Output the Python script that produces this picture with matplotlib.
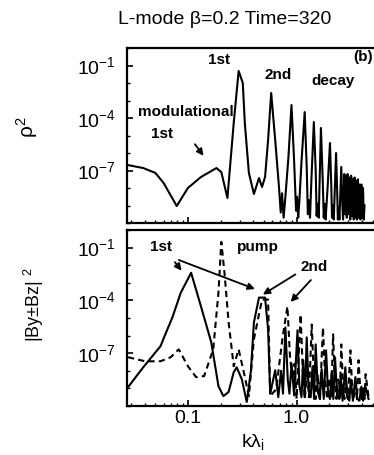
import numpy as np
import matplotlib
matplotlib.use("Agg")
import matplotlib.pyplot as plt
from matplotlib.ticker import FixedLocator, NullFormatter

plt.rcParams['font.family'] = ['Liberation Sans', 'DejaVu Sans']
plt.rcParams['mathtext.fontset'] = 'custom'
plt.rcParams['mathtext.rm'] = 'Liberation Sans'
plt.rcParams['mathtext.it'] = 'Liberation Sans:italic'

# --- top panel: rho^2 spectrum (k lambda_i, log10 value) ---
rho_k = [0.0281, 0.0388, 0.0502, 0.0597, 0.0789, 0.100, 0.132, 0.183, 0.203, 0.231,
         0.264, 0.293, 0.320, 0.334, 0.364, 0.405, 0.451, 0.481, 0.513, 0.547,
         0.584, 0.636, 0.690, 0.715, 0.735, 0.760, 0.789, 0.842, 0.898, 0.950,
         0.990, 1.010, 1.035, 1.060, 1.110, 1.188, 1.240, 1.270, 1.300, 1.330,
         1.370, 1.442, 1.500, 1.530, 1.560, 1.600, 1.676, 1.740, 1.780, 1.810,
         1.850, 1.930, 2.030, 2.090, 2.120, 2.160, 2.200, 2.310, 2.370, 2.400,
         2.440, 2.480, 2.580, 2.640, 2.680, 2.750, 2.800, 2.850, 2.900, 2.950,
         3.000, 3.060, 3.120, 3.180, 3.240, 3.300, 3.360, 3.420, 3.480, 3.540,
         3.600, 3.670, 3.740, 3.810, 3.880, 3.950, 4.020, 4.090, 4.160, 4.220]
rho_log = [-6.69, -6.86, -7.14, -7.71, -9.03, -8.00, -7.37, -6.86, -7.09, -8.57,
           -4.29, -1.31, -2.00, -4.29, -7.14, -8.34, -7.43, -7.94, -7.37, -5.26,
           -2.57, -5.26, -8.00, -9.40, -8.30, -9.70, -8.51, -6.23, -3.26, -6.50,
           -9.30, -8.50, -9.70, -8.80, -6.50, -3.66, -6.80, -9.50, -8.70, -9.70,
           -7.50, -4.23, -7.00, -9.60, -8.90, -9.70, -4.57, -7.50, -9.70, -8.90,
           -9.80, -8.00, -5.43, -8.00, -9.70, -9.00, -9.80, -6.00, -8.40, -9.80,
           -9.10, -9.80, -6.80, -9.00, -9.80, -7.20, -9.50, -7.30, -9.70, -7.20,
           -9.50, -7.40, -9.80, -7.30, -9.60, -7.50, -9.80, -7.40, -9.70, -7.60,
           -9.80, -7.50, -9.70, -7.80, -9.80, -7.80, -9.70, -8.00, -9.80, -9.00]

# --- bottom panel: |By+-Bz|^2, solid and dashed components ---
sol_k = [0.0281, 0.0388, 0.0558, 0.0724, 0.0860, 0.107, 0.132, 0.164, 0.191, 0.212,
         0.237, 0.264, 0.281, 0.313, 0.348, 0.380, 0.405, 0.451, 0.513, 0.547,
         0.572, 0.636, 0.679, 0.720, 0.750, 0.789, 0.830, 0.860, 0.900, 0.950,
         1.020, 1.060, 1.110, 1.150, 1.190, 1.240, 1.290, 1.350, 1.400, 1.450,
         1.500, 1.570, 1.640, 1.700, 1.780, 1.870, 1.950, 2.030, 2.100, 2.180,
         2.260, 2.360, 2.470, 2.550, 2.650, 2.810, 2.930, 3.060, 3.160, 3.300,
         3.480, 3.620, 3.790, 3.950, 4.100, 4.320, 4.600]
sol_log = [-8.93, -7.80, -6.61, -4.92, -3.56, -2.43, -4.35, -6.38, -8.87, -9.44,
           -9.20, -8.08, -7.80, -8.47, -9.77, -8.00, -5.25, -3.84, -3.84, -5.65,
           -9.30, -7.97, -9.50, -8.00, -9.30, -5.54, -8.50, -9.30, -7.60, -9.40,
           -5.70, -8.80, -9.50, -7.40, -9.50, -6.10, -9.00, -9.50, -7.80, -9.60,
           -6.50, -9.20, -9.60, -7.90, -9.60, -6.84, -9.30, -9.60, -8.10, -9.60,
           -7.23, -9.40, -9.60, -8.30, -9.70, -7.80, -9.50, -9.70, -8.50, -9.70,
           -8.36, -9.60, -9.70, -8.90, -9.70, -8.93, -9.60]

dash_k = [0.0281, 0.0405, 0.0558, 0.0694, 0.0824, 0.100, 0.119, 0.141, 0.171, 0.191,
          0.203, 0.217, 0.237, 0.264, 0.293, 0.327, 0.364, 0.405, 0.481, 0.547,
          0.572, 0.650, 0.740, 0.824, 0.870, 0.917, 0.960, 1.000, 1.090, 1.140,
          1.190, 1.250, 1.300, 1.380, 1.440, 1.500, 1.570, 1.640, 1.750, 1.830,
          1.910, 2.000, 2.080, 2.170, 2.250, 2.330, 2.420, 2.500, 2.580, 2.670,
          2.760, 2.860, 2.970, 3.130, 3.240, 3.350, 3.470, 3.600, 3.720, 3.850,
          3.970, 4.100, 4.220, 4.320, 4.600]
dash_log = [-7.23, -7.46, -7.46, -7.23, -6.78, -7.74, -8.36, -8.30, -6.78, -3.56,
            -0.68, -2.43, -5.25, -7.74, -6.78, -8.08, -9.44, -6.20, -3.95, -3.95,
            -9.44, -9.04, -6.20, -4.35, -7.18, -8.50, -7.60, -9.60, -4.80, -8.00,
            -9.60, -8.00, -9.50, -5.37, -8.30, -9.60, -8.20, -9.60, -5.54, -8.40,
            -9.60, -8.40, -9.60, -5.93, -8.60, -9.60, -8.50, -9.60, -6.50, -8.70,
            -9.60, -8.70, -9.60, -6.84, -8.80, -9.60, -8.80, -9.60, -7.40, -9.00,
            -9.60, -9.00, -9.60, -8.19, -9.50]

ytick_vals = [1e-7, 1e-4, 1e-1]
ytick_labels = [r'10$^{-7}$', r'10$^{-4}$', r'10$^{-1}$']
xtick_vals = [0.1, 1.0]
xtick_labels = ['0.1', '1.0']

W, H = 374, 455
fig = plt.figure(figsize=(W / 100, H / 100), dpi=100)
ax1 = fig.add_axes([127 / W, (H - 223) / H, 250 / W, 175 / H])
ax2 = fig.add_axes([127 / W, (H - 406) / H, 250 / W, 176 / H])

lw = 1.5
ax1.plot(rho_k, 10 ** np.array(rho_log), color='k', lw=lw)
ax2.plot(sol_k, 10 ** np.array(sol_log), color='k', lw=lw)
ax2.plot(dash_k, 10 ** np.array(dash_log), color='k', lw=lw, ls=(0, (3, 2)))

for ax in (ax1, ax2):
    ax.set_xscale('log')
    ax.set_yscale('log')
    ax.set_xlim(0.0275, 5.5)
    ax.set_ylim(1e-10, 1)
    for s in ax.spines.values():
        s.set_linewidth(1.6)
    ax.yaxis.set_major_locator(FixedLocator(ytick_vals))
    ax.set_yticklabels(ytick_labels, fontsize=14)
    ax.yaxis.set_minor_locator(FixedLocator(10.0 ** np.arange(-10, 1)))
    ax.yaxis.set_minor_formatter(NullFormatter())
    ax.tick_params(which='both', direction='in', top=False, right=False)
    ax.tick_params(which='major', length=4, width=1.2, pad=8)
    ax.tick_params(which='minor', length=2.5, width=1.0)

ax1.xaxis.set_major_locator(FixedLocator(xtick_vals))
ax1.xaxis.set_major_formatter(NullFormatter())
ax1.xaxis.set_minor_formatter(NullFormatter())
ax2.xaxis.set_major_locator(FixedLocator(xtick_vals))
ax2.set_xticklabels(xtick_labels, fontsize=14)
ax2.xaxis.set_minor_formatter(NullFormatter())
ax2.tick_params(axis='x', which='major', pad=3)

# annotations, top panel
bold = dict(fontsize=11, fontweight='bold', ha='center', va='center')
ax1.text(0.369, 0.931, '1st', transform=ax1.transAxes, **bold)
ax1.text(0.606, 0.846, '2nd', transform=ax1.transAxes, **bold)
ax1.text(0.823, 0.811, 'decay', transform=ax1.transAxes, **bold)
ax1.text(0.944, 0.949, '(b)', transform=ax1.transAxes, **bold)
ax1.text(0.237, 0.634, 'modulational', transform=ax1.transAxes, **bold)
ax1.text(0.141, 0.509, '1st', transform=ax1.transAxes, **bold)
arw = dict(arrowstyle='-|>', lw=1.3, color='k', mutation_scale=10)
ax1.annotate('', xy=(0.313, 0.371), xytext=(0.265, 0.463),
             xycoords='axes fraction', arrowprops=arw)

# annotations, bottom panel
ax2.text(0.137, 0.903, '1st', transform=ax2.transAxes, **bold)
ax2.text(0.522, 0.903, 'pump', transform=ax2.transAxes, **bold)
ax2.text(0.747, 0.790, '2nd', transform=ax2.transAxes, **bold)
for start, end in [((0.185, 0.830), (0.225, 0.756)),
                   ((0.197, 0.835), (0.522, 0.659)),
                   ((0.683, 0.756), (0.534, 0.625)),
                   ((0.743, 0.727), (0.647, 0.580))]:
    ax2.annotate('', xy=end, xytext=start, xycoords='axes fraction', arrowprops=arw)

fig.text(225 / W, 1 - 20 / H, 'L-mode β=0.2 Time=320', fontsize=14,
         ha='center', va='center')
fig.text(27 / W, 1 - 127 / H, r'ρ$^{2}$', fontsize=15, rotation=90,
         ha='center', va='center')
fig.text(34 / W, 1 - 305 / H, r'|By±Bz| $^{2}$', fontsize=13, rotation=90,
         ha='center', va='center')
fig.text(253 / W, 1 - 442 / H, r'kλ$_{\rm i}$', fontsize=14,
         ha='center', va='center')

fig.savefig('out.png', dpi=100)
